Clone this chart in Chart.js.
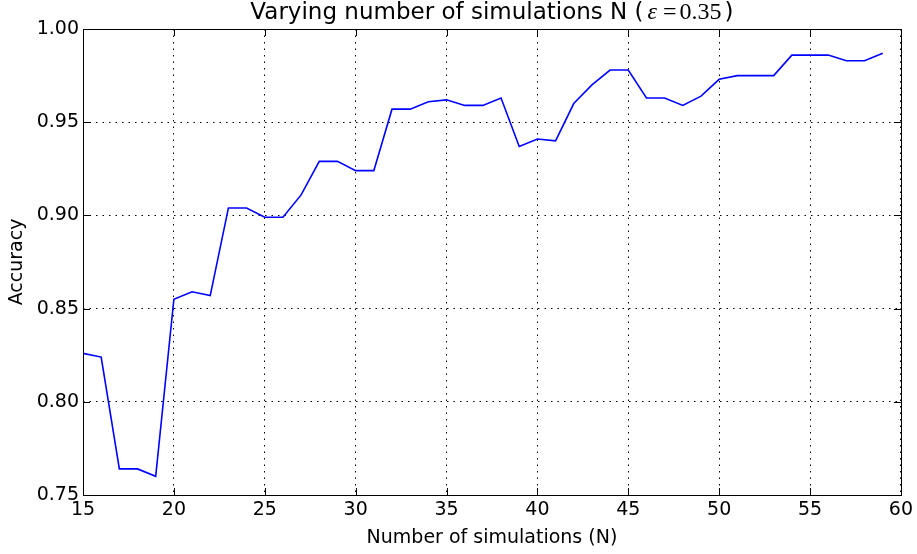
<!DOCTYPE html>
<html>
<head>
<meta charset="utf-8">
<script src="https://cdn.jsdelivr.net/npm/chart.js@4.4.1/dist/chart.umd.min.js"></script>
<style>
  html, body { margin: 0; padding: 0; background: #fff; }
  #wrap { width: 917px; height: 554px; }
</style>
</head>
<body>
<div id="wrap"><canvas id="c" width="917" height="554"></canvas></div>
<script>
// Number of simulations N
const simulations = [15, 16, 17, 18, 19, 20, 21, 22, 23, 24, 25, 26, 27, 28, 29, 30, 31, 32, 33, 34, 35, 36, 37,
  38, 39, 40, 41, 42, 43, 44, 45, 46, 47, 48, 49, 50, 51, 52, 53, 54, 55, 56, 57, 58, 59];
// Accuracy for each N (epsilon = 0.35)
const accuracy = [0.826, 0.824, 0.764, 0.764, 0.760, 0.855, 0.859, 0.857, 0.904, 0.904, 0.899, 0.899, 0.911,
  0.929, 0.929, 0.924, 0.924, 0.957, 0.957, 0.961, 0.962, 0.959, 0.959, 0.963, 0.937, 0.941, 0.940, 0.960,
  0.970, 0.978, 0.978, 0.963, 0.963, 0.959, 0.964, 0.973, 0.975, 0.975, 0.975, 0.986, 0.986, 0.986, 0.983,
  0.983, 0.987];
const xTicks = [15, 20, 25, 30, 35, 40, 45, 50, 55, 60];
const yTicks = [0.75, 0.80, 0.85, 0.90, 0.95, 1.00];

const SANS = '"DejaVu Sans", sans-serif';
const SERIF = '"Liberation Serif", "DejaVu Serif", serif';

// Frame around the axes with inward-pointing tick marks on all four sides
const framePlugin = {
  id: 'frame',
  afterDatasetsDraw(chart) {
    const { ctx, chartArea: a, scales } = chart;
    const len = 7;
    ctx.save();
    ctx.strokeStyle = '#000';
    ctx.lineWidth = 1;
    ctx.setLineDash([]);
    ctx.beginPath();
    xTicks.forEach(v => {
      const x = Math.round(scales.x.getPixelForValue(v)) + 0.5;
      ctx.moveTo(x, a.bottom); ctx.lineTo(x, a.bottom - len);
      ctx.moveTo(x, a.top); ctx.lineTo(x, a.top + len);
    });
    yTicks.forEach(v => {
      const y = Math.round(scales.y.getPixelForValue(v)) + 0.5;
      ctx.moveTo(a.left, y); ctx.lineTo(a.left + len, y);
      ctx.moveTo(a.right, y); ctx.lineTo(a.right - len, y);
    });
    ctx.stroke();
    ctx.strokeRect(Math.round(a.left) + 0.5, Math.round(a.top) + 0.5,
      Math.round(a.right - a.left), Math.round(a.bottom - a.top));
    ctx.restore();
  }
};

// Title with the epsilon expression set in a math-style serif face
const titlePlugin = {
  id: 'mixedTitle',
  afterDraw(chart) {
    const { ctx, chartArea: a } = chart;
    const parts = [
      { t: 'Varying number of simulations N (', f: '23px ' + SANS, gap: 4 },
      { t: '\u03b5', f: 'italic 24px ' + SERIF, gap: 6 },
      { t: '=', f: '24px ' + SERIF, gap: 3 },
      { t: '0.35', f: '24px ' + SERIF, gap: 3 },
      { t: ')', f: '23px ' + SANS, gap: 0 }
    ];
    ctx.save();
    let total = 0;
    parts.forEach(p => { ctx.font = p.f; p.w = ctx.measureText(p.t).width; total += p.w + p.gap; });
    let x = (a.left + a.right) / 2 - total / 2;
    ctx.fillStyle = '#000';
    ctx.textBaseline = 'alphabetic';
    parts.forEach(p => { ctx.font = p.f; ctx.fillText(p.t, x, 19); x += p.w + p.gap; });
    ctx.restore();
  }
};

new Chart(document.getElementById('c'), {
  type: 'line',
  data: {
    datasets: [{
      data: simulations.map((n, i) => ({ x: n, y: accuracy[i] })),
      borderColor: '#0000ff',
      borderWidth: 1.6,
      pointRadius: 0,
      tension: 0,
      fill: false
    }]
  },
  options: {
    responsive: false,
    animation: false,
    layout: { padding: { top: 29, right: 16, left: 0, bottom: 0 } },
    plugins: { legend: { display: false }, tooltip: { enabled: false } },
    scales: {
      x: {
        type: 'linear',
        min: 15, max: 60,
        afterFit(s) { s.height = 59; },
        afterBuildTicks(s) { s.ticks = xTicks.map(v => ({ value: v })); },
        grid: { color: '#000', lineWidth: 1, drawTicks: false },
        border: { display: false, dash: [1.5, 5] },
        ticks: { color: '#000', font: { family: SANS, size: 19 }, padding: 4, maxRotation: 0 },
        title: { display: true, text: 'Number of simulations (N)', color: '#000',
          font: { family: SANS, size: 19 }, padding: { top: 0, bottom: 5 } }
      },
      y: {
        min: 0.75, max: 1.0,
        afterFit(s) { s.width = 83; },
        afterBuildTicks(s) { s.ticks = yTicks.map(v => ({ value: v })); },
        grid: { color: '#000', lineWidth: 1, drawTicks: false },
        border: { display: false, dash: [1.5, 5] },
        ticks: { color: '#000', font: { family: SANS, size: 19 }, padding: 4,
          callback: v => v.toFixed(2) },
        title: { display: true, text: 'Accuracy', color: '#000',
          font: { family: SANS, size: 19 }, padding: { top: 6, bottom: 0 } }
      }
    }
  },
  plugins: [framePlugin, titlePlugin]
});
</script>
</body>
</html>
